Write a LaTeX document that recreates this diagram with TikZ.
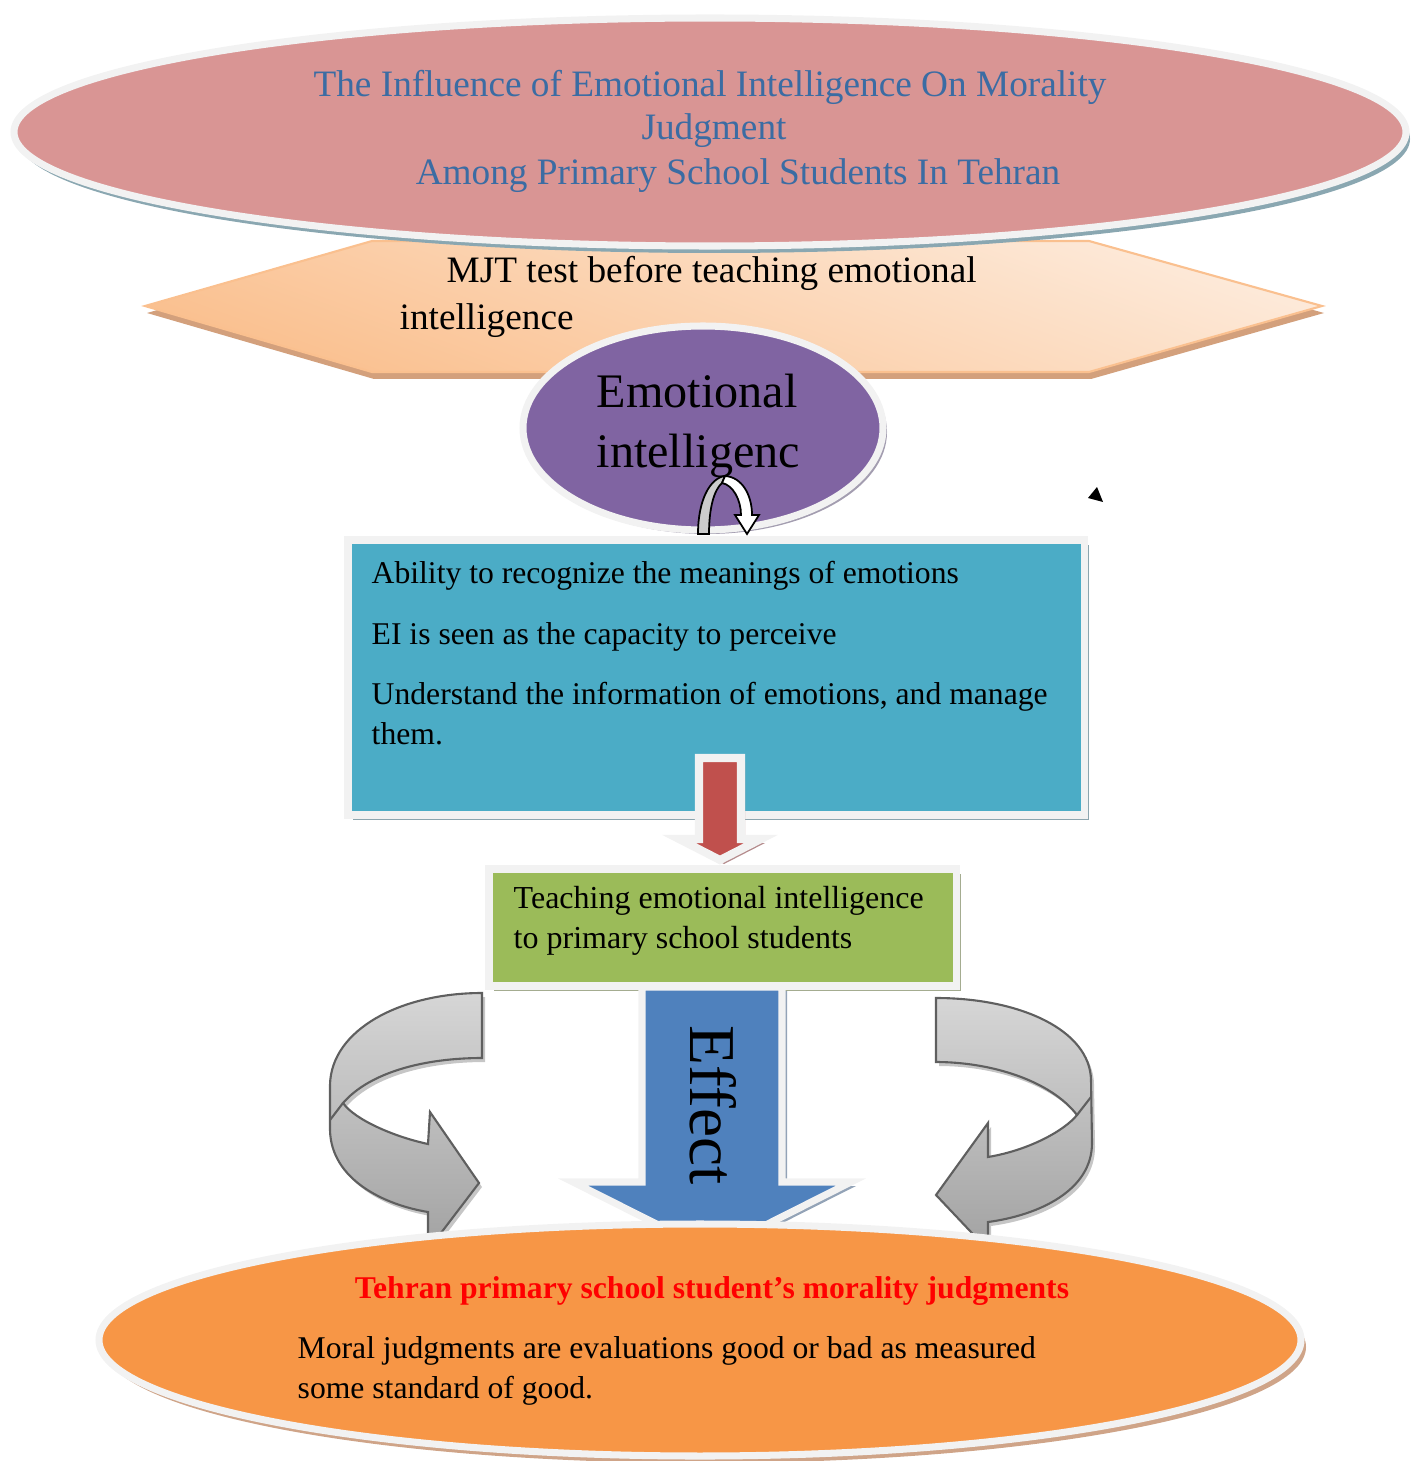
\documentclass[tikz,border=0pt]{standalone}
\usepackage{fontspec}
\setmainfont{Liberation Serif}
\definecolor{titlefill}{HTML}{D99594}
\definecolor{titleblue}{HTML}{3B6CA3}
\definecolor{titleshadow}{HTML}{8AA7B1}
\definecolor{hexlight}{HTML}{FDEADA}
\definecolor{hexdark}{HTML}{FAC08F}
\definecolor{hexshadow}{HTML}{D3A07C}
\definecolor{eipurple}{HTML}{8064A2}
\definecolor{eishadow}{HTML}{A39DB0}
\definecolor{defblue}{HTML}{4BACC6}
\definecolor{defshadow}{HTML}{8CA5AE}
\definecolor{stepred}{HTML}{C0504D}
\definecolor{redshadow}{HTML}{B58C8D}
\definecolor{teachgreen}{HTML}{9BBB59}
\definecolor{greenshadow}{HTML}{A4AC90}
\definecolor{effectblue}{HTML}{4F81BD}
\definecolor{effectshadow}{HTML}{93A3B7}
\definecolor{moralorange}{HTML}{F79646}
\definecolor{moralshadow}{HTML}{CFA488}
\definecolor{rimgray}{HTML}{F2F2F2}
\definecolor{loopgray}{HTML}{5F5F5F}
\definecolor{looplight}{HTML}{D6D6D6}
\definecolor{loopdark}{HTML}{A2A2A2}
% outlines of the block shapes (pixel units, y downwards)
\newcommand{\hexpath}{(145,306) -- (372,241) -- (1089,241) -- (1322,306) -- (1089,372) -- (372,372) -- cycle}
\newcommand{\redpath}{(699,758) -- (741,758) -- (741,839) -- (761,839) -- (720,860) -- (679,839) -- (699,839) -- cycle}
\newcommand{\effectpath}{(642,987) -- (782,987) -- (782,1182) -- (851,1182) -- (712,1252) -- (573,1182) -- (642,1182) -- cycle}
\newcommand{\leftloop}{(482,993) .. controls (400,993) and (331,1030) .. (330,1085) -- (330,1130) .. controls (331,1180) and (385,1205) .. (428,1212) -- (428,1250) -- (479,1183) -- (430,1112) -- (428,1144) .. controls (395,1137) and (355,1120) .. (343,1103) .. controls (370,1072) and (425,1058) .. (482,1058) -- cycle}
\newcommand{\rightloop}{(936,998) .. controls (1020,998) and (1090,1030) .. (1091,1080) -- (1092,1143) .. controls (1092,1190) and (1040,1215) .. (988,1222) -- (988,1250) -- (936,1195) -- (988,1123) -- (988,1157) .. controls (1030,1150) and (1065,1130) .. (1077,1115) .. controls (1050,1080) and (990,1062) .. (936,1062) -- cycle}

\begin{document}
\begin{tikzpicture}[x=0.01cm, y=-0.01cm,
  rim/.style={draw=rimgray, line width=2pt},
  loop/.style={draw=loopgray, line width=0.6pt, top color=looplight, bottom color=loopdark},
  line/.style={inner sep=0, anchor=base west},
  titletext/.style={inner sep=0, anchor=base, text=titleblue, font=\fontsize{10.6}{12.7}\selectfont},
  bodytext/.style={line, font=\fontsize{9}{11.2}\selectfont}]

\useasboundingbox (0,0) rectangle (1427,1461);

% MJT hexagon, partly under the title
\fill[hexshadow, shift={(2,7)}] \hexpath;
\draw[draw=hexdark, line width=0.6pt, top color=hexlight, bottom color=hexdark, shading angle=-20] \hexpath;

% title ellipse
\fill[titleshadow] (714,139) ellipse [x radius=696, y radius=114];
\draw[rim, fill=titlefill] (710,132) ellipse [x radius=696, y radius=114];
\node (titleA) at (710,97) [titletext] {The Influence of Emotional Intelligence On Morality};
\node (titleB) at (714,140) [titletext] {Judgment};
\node (titleC) at (738,185) [titletext] {Among Primary School Students In Tehran};

\node (mjtA) at (446,283) [line, font=\fontsize{10.6}{12.7}\selectfont] {MJT test before teaching emotional};
\node (mjtB) at (399,330) [line, font=\fontsize{10.6}{12.7}\selectfont] {intelligence};

% emotional intelligence
\fill[eishadow] (707,432) ellipse [x radius=180, y radius=102];
\draw[rim, fill=eipurple] (703,428) ellipse [x radius=180, y radius=102];
\node (eiA) at (596,408) [line, font=\fontsize{13.7}{16}\selectfont] {Emotional};
\node (eiB) at (596,467) [line, font=\fontsize{13.7}{16}\selectfont] {intelligenc};

% definition box
\fill[defshadow] (353,545) rectangle (1089,820);
\draw[rim, fill=defblue] (348,540) rectangle (1084,815);
\node (defA) at (371,583) [bodytext] {Ability to recognize the meanings of emotions};
\node (defB) at (371,644) [bodytext] {EI is seen as the capacity to perceive};
\node (defC) at (371,704) [bodytext] {Understand the information of emotions, and manage};
\node (defD) at (371,744) [bodytext] {them.};

% small u-turn arrow
\draw[black, line width=0.5pt, fill=gray!40] (698,534) .. controls (698,500) and (710,478) .. (725,476) -- (722,483) .. controls (714,490) and (709,508) .. (709,534) -- cycle;
\draw[black, line width=0.5pt, fill=white] (725,476) .. controls (742,477) and (752,495) .. (752,515) -- (759,515) -- (747,534) -- (735,515) -- (741,515) .. controls (741,500) and (733,485) .. (722,483) -- cycle;
\fill[black] (1097,487) -- (1088,498) -- (1103,502) -- cycle;

% red step arrow
\fill[redshadow, shift={(4,4)}] \redpath;
\draw[rim, line width=2.3pt, fill=stepred] \redpath;

% teaching box
\fill[greenshadow] (494,874) rectangle (961,991);
\draw[rim, fill=teachgreen] (489,869) rectangle (956,986);
\node (teach) at (513,948) [line, align=left, font=\fontsize{9.1}{11.1}\selectfont] {Teaching emotional intelligence\\to primary school students};

% effect arrow
\fill[effectshadow, shift={(5,4)}] \effectpath;
\draw[rim, fill=effectblue] \effectpath;
\node (effect) at (713,1105) [rotate=-90, inner sep=0, font=\fontsize{18.6}{20}\selectfont] {Effect};

% curved side arrows
\fill[gray!45, shift={(3,4)}] \leftloop;
\draw[loop] \leftloop;
\draw[loopgray, line width=0.6pt] (343,1103) -- (330,1120);
\fill[gray!45, shift={(3,4)}] \rightloop;
\draw[loop] \rightloop;
\draw[loopgray, line width=0.6pt] (1077,1115) -- (1091,1097);

% morality judgments
\fill[moralshadow] (705,1347) ellipse [x radius=601, y radius=116];
\draw[rim, fill=moralorange] (700,1340) ellipse [x radius=601, y radius=116];
\node (moralT) at (712,1298) [inner sep=0, anchor=base, text=red, font=\bfseries\fontsize{9}{11}\selectfont] {Tehran primary school student’s morality judgments};
\node (moralA) at (297,1358) [bodytext] {Moral judgments are evaluations good or bad as measured};
\node (moralB) at (297,1398) [bodytext] {some standard of good.};

\end{tikzpicture}
\end{document}
